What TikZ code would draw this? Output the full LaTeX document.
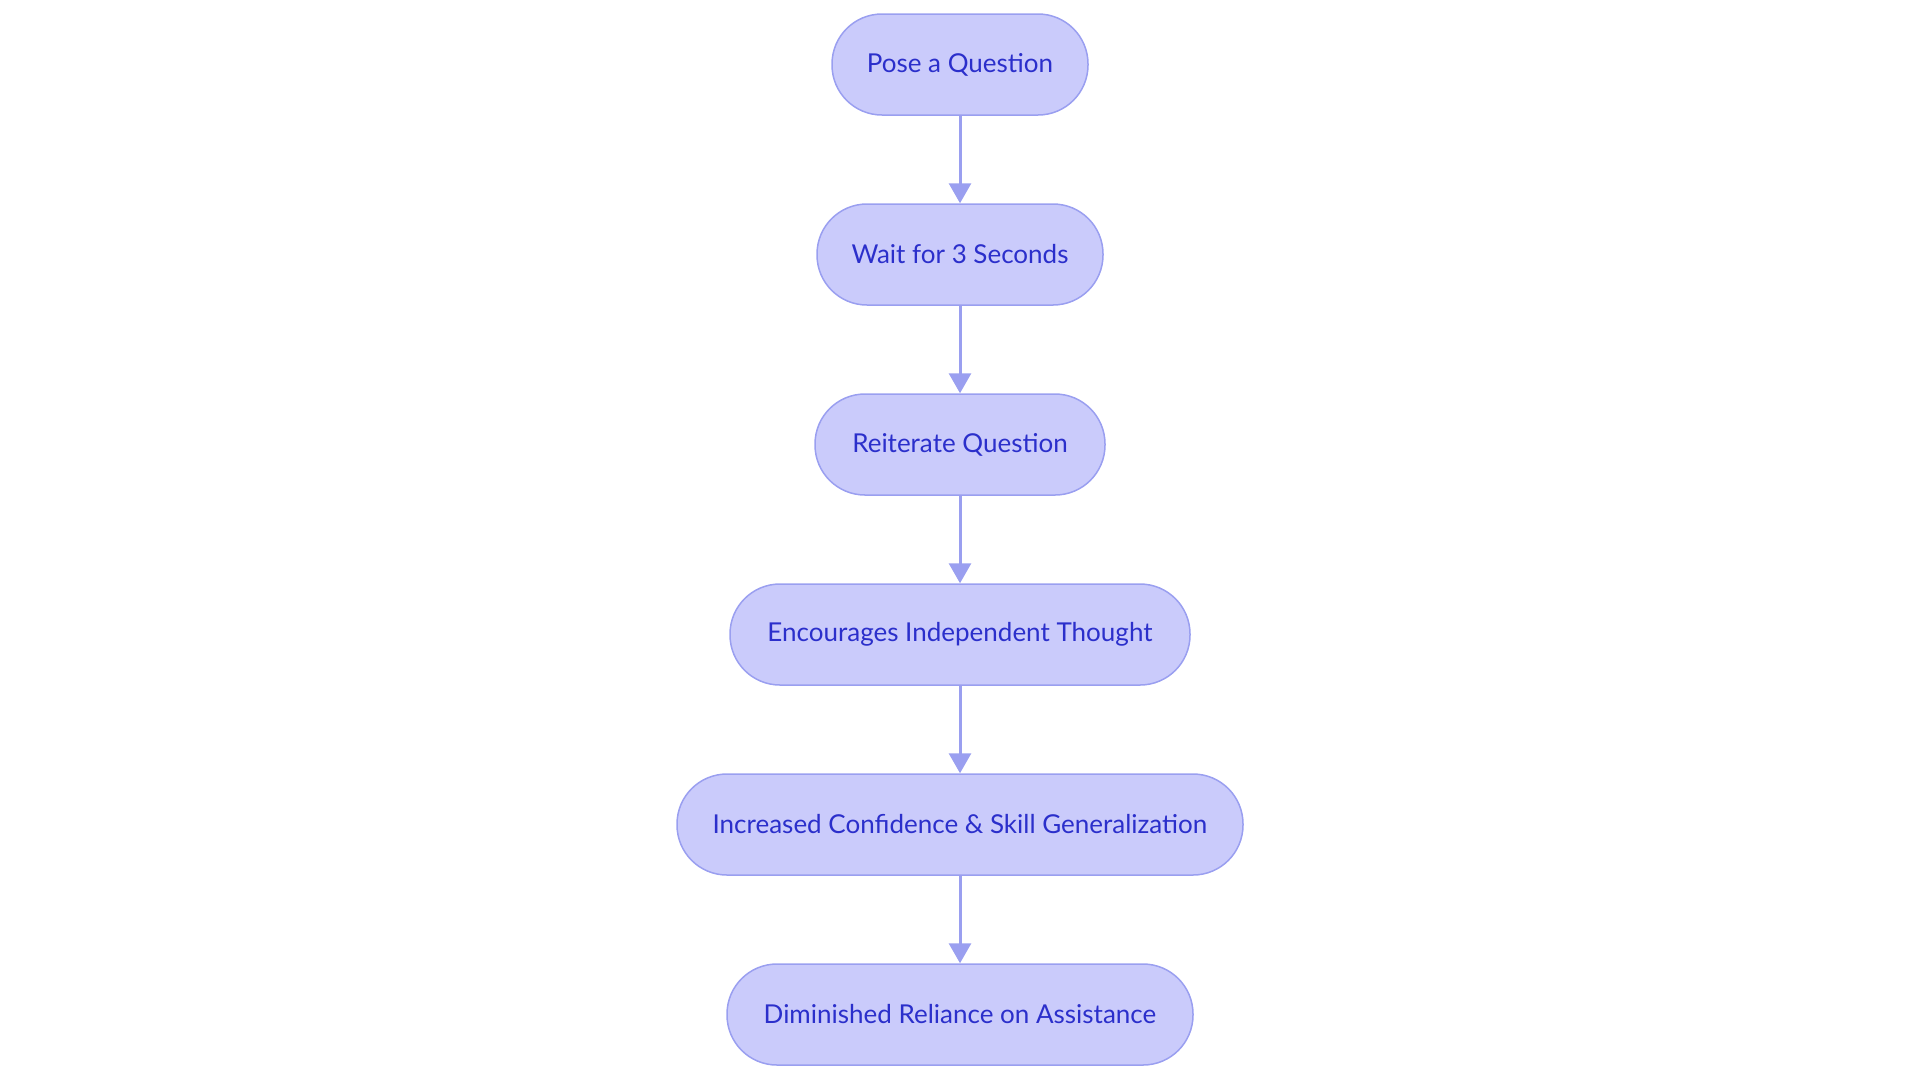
\documentclass[tikz,border=0pt]{standalone}
\usepackage{fontspec}
\setmainfont{Lato}
\usetikzlibrary{arrows.meta}
\definecolor{boxfill}{HTML}{CACBFB}
\definecolor{boxline}{HTML}{9A9FF0}
\definecolor{boxtext}{HTML}{2B2FCB}
\definecolor{arrowc}{HTML}{9A9FF0}
\tikzset{
  flowbox/.style={draw=boxline, line width=0.75pt, fill=boxfill, rounded corners=25pt,
    minimum height=50.5pt, text=boxtext, font=\fontsize{13pt}{15.5pt}\selectfont, inner sep=0pt},
  flowarrow/.style={draw=arrowc, line width=1.5pt, -{Triangle[width=11pt,length=10pt]}}
}
\begin{document}
\begin{tikzpicture}[x=0.5pt,y=-0.5pt]
\useasboundingbox (0,0) rectangle (1920,1083);
\node[flowbox, minimum width=128pt] (n1) at (960,64.5) {Pose a Question};
\node[flowbox, minimum width=143pt] (n2) at (960,254.5) {Wait for 3 Seconds};
\node[flowbox, minimum width=145pt] (n3) at (960,444.5) {Reiterate Question};
\node[flowbox, minimum width=230pt] (n4) at (960,634.5) {Encourages Independent Thought};
\node[flowbox, minimum width=283pt] (n5) at (960,824.5) {Increased Confidence \& Skill Generalization};
\node[flowbox, minimum width=233pt] (n6) at (960,1014.5) {Diminished Reliance on Assistance};
\draw[flowarrow] (n1) -- (n2);
\draw[flowarrow] (n2) -- (n3);
\draw[flowarrow] (n3) -- (n4);
\draw[flowarrow] (n4) -- (n5);
\draw[flowarrow] (n5) -- (n6);
\end{tikzpicture}
\end{document}
